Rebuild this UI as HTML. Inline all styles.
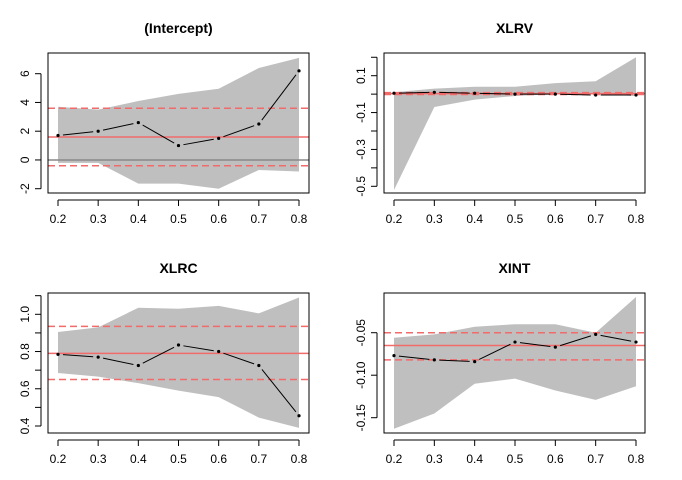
<!DOCTYPE html>
<html><head><meta charset="utf-8"><style>
body{margin:0;background:#fff}
svg{display:block;font-family:"Liberation Sans",Arial,sans-serif}
</style></head><body>
<svg id="c" width="682" height="480" viewBox="0 0 682 480"></svg>
<script>
const taus = [0.2, 0.3, 0.4, 0.5, 0.6, 0.7, 0.8];
const xTickLabels = ["0.2","0.3","0.4","0.5","0.6","0.7","0.8"];

const interceptEst = [1.7, 2.0, 2.6, 1.0, 1.5, 2.5, 6.2];
const interceptUpper = [3.7, 3.5, 4.1, 4.6, 4.95, 6.4, 7.1];
const interceptLower = [-0.2, -0.2, -1.65, -1.65, -2.0, -0.7, -0.8];
const interceptOls = [1.6, 3.6, -0.4];
const interceptTicks = [-2, 0, 2, 4, 6];
const interceptTickLabels = ["-2","0","2","4","6"];

const xlrvEst = [0.005, 0.01, 0.005, 0.0, 0.0, -0.005, -0.005];
const xlrvUpper = [0.01, 0.03, 0.04, 0.04, 0.06, 0.07, 0.2];
const xlrvLower = [-0.52, -0.07, -0.03, -0.01, 0.0, 0.0, -0.01];
const xlrvOls = [0.003, 0.008, -0.002];
const xlrvTicks = [-0.5, -0.4, -0.3, -0.2, -0.1, 0.0, 0.1, 0.2];
const xlrvTickLabels = ["-0.5","","-0.3","","-0.1","","0.1",""];

const xlrcEst = [0.785, 0.77, 0.725, 0.835, 0.80, 0.725, 0.455];
const xlrcUpper = [0.905, 0.93, 1.035, 1.03, 1.045, 1.005, 1.09];
const xlrcLower = [0.685, 0.665, 0.63, 0.59, 0.555, 0.445, 0.39];
const xlrcOls = [0.79, 0.935, 0.65];
const xlrcTicks = [0.4, 0.5, 0.6, 0.7, 0.8, 0.9, 1.0, 1.1];
const xlrcTickLabels = ["0.4","","0.6","","0.8","","1.0",""];

const xintEst = [-0.077, -0.082, -0.084, -0.061, -0.067, -0.052, -0.061];
const xintUpper = [-0.056, -0.052, -0.043, -0.040, -0.040, -0.050, -0.008];
const xintLower = [-0.163, -0.145, -0.110, -0.104, -0.118, -0.129, -0.113];
const xintOls = [-0.065, -0.050, -0.082];
const xintTicks = [-0.15, -0.10, -0.05];
const xintTickLabels = ["-0.15","-0.10","-0.05"];

const panels = [
 {name:"intercept", title:"(Intercept)", est:interceptEst, up:interceptUpper, lo:interceptLower, ols:interceptOls, ticks:interceptTicks, labels:interceptTickLabels,
  box:[48,53,309,193], x0:58, x1:299, yv:[6,-2], yp:[73.7,188.7], zero:true, titleY:33},
 {name:"xlrv", title:"XLRV", est:xlrvEst, up:xlrvUpper, lo:xlrvLower, ols:xlrvOls, ticks:xlrvTicks, labels:xlrvTickLabels,
  box:[384,53,645,193], x0:394, x1:636, yv:[0.1,-0.5], yp:[75.7,186.3], zero:false, titleY:33},
 {name:"xlrc", title:"XLRC", est:xlrcEst, up:xlrcUpper, lo:xlrcLower, ols:xlrcOls, ticks:xlrcTicks, labels:xlrcTickLabels,
  box:[48,293,309,433], x0:58, x1:299, yv:[1.0,0.4], yp:[314.3,426], zero:false, titleY:273},
 {name:"xint", title:"XINT", est:xintEst, up:xintUpper, lo:xintLower, ols:xintOls, ticks:xintTicks, labels:xintTickLabels,
  box:[384,293,645,433], x0:394, x1:636, yv:[-0.05,-0.15], yp:[332.7,417.7], zero:false, titleY:273}
];
const NS="http://www.w3.org/2000/svg";
const svg=document.getElementById('c');
function mk(tag,attrs,parent){const e=document.createElementNS(NS,tag);for(const k in attrs)e.setAttribute(k,attrs[k]);(parent||svg).appendChild(e);return e;}

panels.forEach(p=>{
  const g=mk('g',{});
  
  
  const [bx0,by0,bx1,by1]=p.box;
  const xs=t=>p.x0+(t-taus[0])/(taus[taus.length-1]-taus[0])*(p.x1-p.x0);
  const ys=v=>p.yp[0]+(v-p.yv[0])/(p.yv[1]-p.yv[0])*(p.yp[1]-p.yp[0]);
  // band
  let pts=taus.map((t,i)=>xs(t)+','+ys(p.up[i]));
  for(let i=taus.length-1;i>=0;i--)pts.push(xs(taus[i])+','+ys(p.lo[i]));
  const band=mk('polygon',{points:pts.join(' '),fill:'#bfbfbf',stroke:'none'},g);
  
  
  if(p.zero){const z=mk('line',{x1:bx0,x2:bx1,y1:ys(0),y2:ys(0),stroke:'#888',"stroke-width":1.5},g);
    
    }
  // ols lines
  const ol=mk('line',{x1:bx0,x2:bx1,y1:ys(p.ols[0]),y2:ys(p.ols[0]),stroke:'#f26b6b',"stroke-width":1.5},g);
  
  
  [1,2].forEach(k=>{const d=mk('line',{x1:bx0,x2:bx1,y1:ys(p.ols[k]),y2:ys(p.ols[k]),stroke:'#f26b6b',"stroke-width":1.5,"stroke-dasharray":"7,4"},g);
    
    });
  // estimate line w/ gaps
  for(let i=0;i<taus.length-1;i++){
    const ax=xs(taus[i]),ay=ys(p.est[i]),bx=xs(taus[i+1]),by=ys(p.est[i+1]);
    const L=Math.hypot(bx-ax,by-ay),gap=Math.min(5,L/3);const ux=(bx-ax)/L,uy=(by-ay)/L;
    const s=mk('line',{x1:ax+ux*gap,y1:ay+uy*gap,x2:bx-ux*gap,y2:by-uy*gap,stroke:'#000',"stroke-width":1},g);
    
    
  }
  taus.forEach((t,i)=>{const c=mk('circle',{cx:xs(t),cy:ys(p.est[i]),r:1.6,fill:'#000'},g);
    
    });
  // box
  const b=mk('rect',{x:bx0,y:by0,width:bx1-bx0,height:by1-by0,fill:'none',stroke:'#000',"stroke-width":1},g);
  
  
  // x axis
  const xa=mk('g',{},g);
  
  
  mk('line',{x1:xs(taus[0]),x2:xs(taus[taus.length-1]),y1:by1+7,y2:by1+7,stroke:'#000'},xa);
  taus.forEach((t,i)=>{mk('line',{x1:xs(t),x2:xs(t),y1:by1+7,y2:by1+13,stroke:'#000'},xa);
    const tx=mk('text',{x:xs(t),y:by1+30,"text-anchor":"middle","font-size":12},xa);tx.textContent=xTickLabels[i];
    
    });
  // y axis
  const ya=mk('g',{},g);
  
  
  mk('line',{x1:bx0-7,x2:bx0-7,y1:ys(p.ticks[0]),y2:ys(p.ticks[p.ticks.length-1]),stroke:'#000'},ya);
  p.ticks.forEach((v,i)=>{const y=ys(v);mk('line',{x1:bx0-7,x2:bx0-13,y1:y,y2:y,stroke:'#000'},ya);
    if(p.labels[i]){const tx=mk('text',{x:0,y:0,"text-anchor":"middle","font-size":12,transform:`translate(${bx0-19},${y}) rotate(-90)`},ya);tx.textContent=p.labels[i];
      
      }});
  const tt=mk('text',{x:(bx0+bx1)/2,y:p.titleY,"text-anchor":"middle","font-size":14,"font-weight":"bold"},g);
  tt.textContent=p.title;
  
  
});
</script>
</body></html>
